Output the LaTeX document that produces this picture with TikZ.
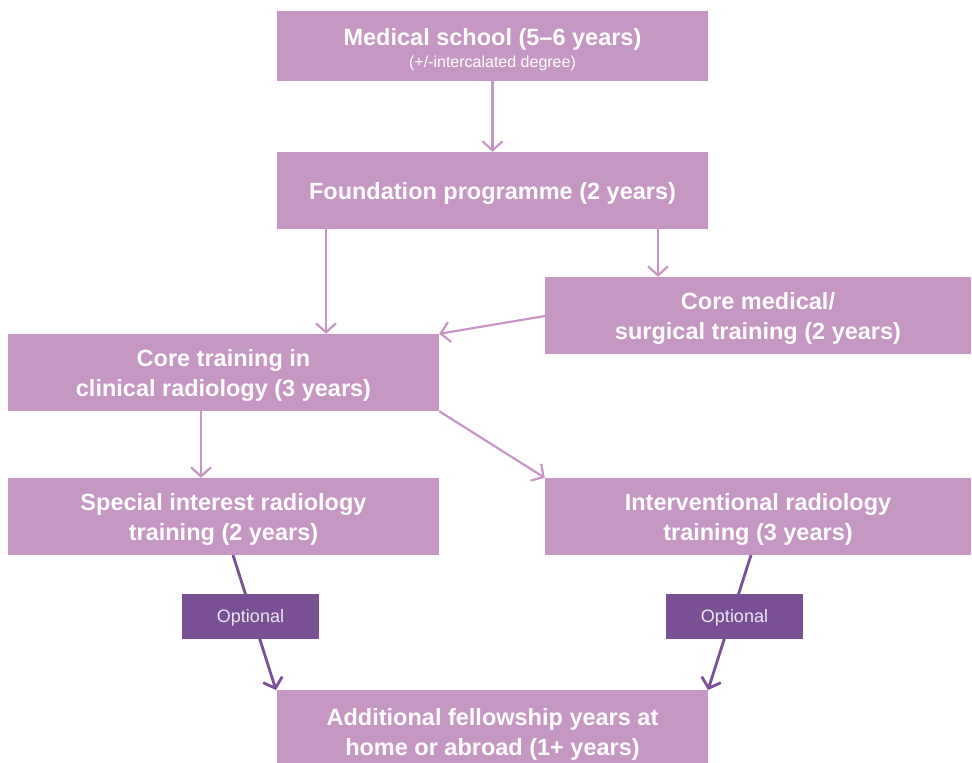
\documentclass[tikz,border=0pt]{standalone}
\usepackage{fontspec}
\setmainfont{Liberation Sans}
\usetikzlibrary{arrows.meta}
\definecolor{lightp}{HTML}{C797C4}
\definecolor{darkp}{HTML}{7A5094}
\tikzset{
  box/.style={fill=lightp, draw=none, text=white, font=\bfseries\fontsize{23.5}{30}\selectfont, align=center, inner sep=0pt, text depth=0pt},
  txt/.style={text=white, inner sep=0pt, anchor=base},
  optbox/.style={fill=darkp, draw=none, text=white!85!darkp, font=\fontsize{18}{20}\selectfont, minimum width=137pt, minimum height=45pt, inner sep=0pt, text depth=0pt},
  conn/.style={draw=lightp, line width=2.2pt, -{Straight Barb[length=9pt,width=20pt,line width=2.2pt]}},
  dconn/.style={draw=darkp, line width=2.8pt, -{Straight Barb[length=9pt,width=20pt,line width=2.8pt]}}
}
\begin{document}
\begin{tikzpicture}[x=1pt,y=-1pt]
\useasboundingbox (0,0) rectangle (972,763);
\node[box, minimum width=431pt, minimum height=70pt] (med) at (492.5,46) {};
\node[txt, font=\bfseries\fontsize{23.5}{30}\selectfont] (medt) at (492.5,45) {Medical school (5–6 years)};
\node[txt, font=\fontsize{16}{20}\selectfont] (meds) at (492.5,67) {(+/-intercalated degree)};
\node[box, minimum width=431pt, minimum height=77pt] (found) at (492.5,190.5) {Foundation programme (2 years)};
\node[box, minimum width=426pt, minimum height=77pt] (cms) at (758,315.5) {Core medical/\\surgical training (2 years)};
\node[box, minimum width=431pt, minimum height=77pt] (ctr) at (223.5,372.5) {Core training in\\clinical radiology (3 years)};
\node[box, minimum width=431pt, minimum height=77pt] (sir) at (223.5,516.5) {Special interest radiology\\training (2 years)};
\node[box, minimum width=426pt, minimum height=77pt] (ir) at (758,516.5) {Interventional radiology\\training (3 years)};
\node[box, minimum width=431pt, minimum height=84pt] (fel) at (492.5,732) {Additional fellowship years at\\home or abroad (1+ years)};
\coordinate (a1) at (326,229);
\coordinate (a2) at (658,229);
\coordinate (b1) at (545,316);
\coordinate (c1) at (201,411);
\coordinate (s1) at (233,555);
\coordinate (s2) at (751,555);
\coordinate (f1) at (276,690);
\coordinate (f2) at (708,690);
\draw[conn] (med.south) -- (found.north);
\draw[conn] (a1) -- (a1 |- ctr.north);
\draw[conn] (a2) -- (a2 |- cms.north);
\draw[conn] (b1) -- (ctr.north east);
\draw[conn] (c1) -- (c1 |- sir.north);
\draw[conn] (ctr.south east) -- (ir.north west);
\draw[dconn] (s1) -- (f1);
\draw[dconn] (s2) -- (f2);
\node[optbox] (opt1) at (250.5,616) {Optional};
\node[optbox] (opt2) at (734.5,616) {Optional};
\end{tikzpicture}
\end{document}
